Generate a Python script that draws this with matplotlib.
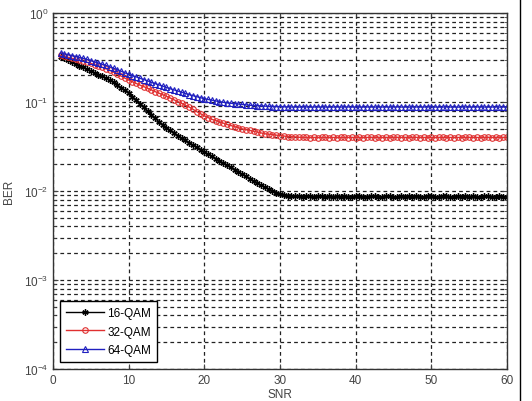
import matplotlib
matplotlib.use("Agg")
import matplotlib.pyplot as plt
from matplotlib.lines import Line2D
import numpy as np

plt.rcParams['font.family'] = ['Liberation Sans', 'DejaVu Sans']

snr = np.arange(1, 60.5, 0.5)

ber_16qam = [0.324, 0.309, 0.295, 0.282, 0.269, 0.257, 0.245, 0.234, 0.224, 0.214,
             0.204, 0.195, 0.186, 0.176, 0.166, 0.155, 0.145, 0.135, 0.126, 0.115,
             0.105, 0.096, 0.087, 0.079, 0.072, 0.066, 0.060, 0.055, 0.051, 0.048,
             0.045, 0.042, 0.039, 0.037, 0.035, 0.033, 0.031, 0.029, 0.0275, 0.026,
             0.0245, 0.0230, 0.0219, 0.0207, 0.0195, 0.0184, 0.0174, 0.0164, 0.0155, 0.0146,
             0.0138, 0.0130, 0.0123, 0.0116, 0.0110, 0.0105, 0.0100, 0.0096, 0.0093,
             0.0090, 0.0089, 0.0088, 0.0087, 0.0088, 0.0086, 0.0087, 0.0088, 0.0085, 0.0087,
             0.0088, 0.0086, 0.0087, 0.0085, 0.0088, 0.0086, 0.0087, 0.0085, 0.0086, 0.0088,
             0.0087, 0.0085, 0.0086, 0.0088, 0.0087, 0.0085, 0.0086, 0.0087, 0.0088, 0.0085,
             0.0086, 0.0087, 0.0085, 0.0088, 0.0086, 0.0087, 0.0085, 0.0086, 0.0088, 0.0087,
             0.0085, 0.0086, 0.0087, 0.0088, 0.0085, 0.0086, 0.0087, 0.0085, 0.0088, 0.0086,
             0.0087, 0.0085, 0.0086, 0.0088, 0.0087, 0.0085, 0.0086, 0.0087, 0.0086, 0.0086]

ber_32qam = [0.335, 0.326, 0.318, 0.310, 0.302, 0.294, 0.287, 0.280, 0.272, 0.263,
             0.255, 0.246, 0.237, 0.227, 0.217, 0.206, 0.196, 0.186, 0.177, 0.169,
             0.162, 0.155, 0.149, 0.143, 0.137, 0.131, 0.126, 0.121, 0.116, 0.111,
             0.106, 0.101, 0.097, 0.092, 0.088, 0.083, 0.078, 0.074, 0.070, 0.067,
             0.064, 0.062, 0.060, 0.058, 0.056, 0.0545, 0.053, 0.0515, 0.050, 0.049,
             0.048, 0.047, 0.046, 0.045, 0.044, 0.0435, 0.043, 0.0425, 0.042,
             0.0415, 0.041, 0.0407, 0.0405, 0.0402, 0.0400, 0.0401, 0.0399, 0.0400, 0.0398,
             0.0400, 0.0401, 0.0399, 0.0400, 0.0398, 0.0400, 0.0401, 0.0399, 0.0400, 0.0399,
             0.0400, 0.0398, 0.0400, 0.0401, 0.0399, 0.0400, 0.0398, 0.0400, 0.0399, 0.0400,
             0.0401, 0.0399, 0.0400, 0.0398, 0.0400, 0.0401, 0.0399, 0.0400, 0.0399, 0.0400,
             0.0398, 0.0400, 0.0401, 0.0399, 0.0400, 0.0398, 0.0400, 0.0399, 0.0400, 0.0401,
             0.0399, 0.0400, 0.0398, 0.0400, 0.0401, 0.0399, 0.0400, 0.0399, 0.0400, 0.0400]

ber_64qam = [0.355, 0.347, 0.340, 0.332, 0.325, 0.317, 0.310, 0.301, 0.292, 0.283,
             0.275, 0.266, 0.258, 0.249, 0.240, 0.231, 0.222, 0.213, 0.205, 0.198,
             0.192, 0.185, 0.179, 0.173, 0.167, 0.161, 0.156, 0.151, 0.146, 0.141,
             0.137, 0.133, 0.129, 0.125, 0.121, 0.118, 0.115, 0.112, 0.109, 0.107,
             0.105, 0.103, 0.101, 0.0995, 0.098, 0.097, 0.096, 0.095, 0.094, 0.093,
             0.092, 0.0915, 0.091, 0.0905, 0.090, 0.0895, 0.089, 0.089, 0.089,
             0.0885, 0.0882, 0.0880, 0.0881, 0.0879, 0.0880, 0.0882, 0.0878, 0.0880, 0.0881,
             0.0879, 0.0880, 0.0878, 0.0880, 0.0881, 0.0879, 0.0880, 0.0882, 0.0879, 0.0880,
             0.0878, 0.0880, 0.0881, 0.0879, 0.0880, 0.0878, 0.0880, 0.0881, 0.0879, 0.0880,
             0.0882, 0.0879, 0.0880, 0.0878, 0.0880, 0.0881, 0.0879, 0.0880, 0.0882, 0.0879,
             0.0880, 0.0878, 0.0880, 0.0881, 0.0879, 0.0880, 0.0878, 0.0880, 0.0881, 0.0879,
             0.0880, 0.0882, 0.0879, 0.0880, 0.0878, 0.0880, 0.0881, 0.0879, 0.0880, 0.0880]

labels = ['16-QAM', '32-QAM', '64-QAM']
xticks = [0, 10, 20, 30, 40, 50, 60]

fig = plt.figure(figsize=(5.32, 4.02), dpi=100)
ax = fig.add_axes([0.0996, 0.0796, 0.8534, 0.8854])

ax.semilogy(snr, ber_16qam, color='black', marker=(6, 2, 0), markersize=4.5,
            markeredgewidth=1.0, linewidth=1.0, label=labels[0])
ax.semilogy(snr, ber_32qam, color='#e03030', marker='o', markersize=4,
            markerfacecolor='none', markeredgewidth=0.8, linewidth=1.0, label=labels[1])
ax.semilogy(snr, ber_64qam, color='#2020c0', marker='^', markersize=4.5,
            markerfacecolor='none', markeredgewidth=0.8, linewidth=1.0, label=labels[2])

ax.set_xlim(0, 60)
ax.set_ylim(1e-4, 1)
ax.set_xticks(xticks)
ax.set_xticklabels([str(t) for t in xticks])
ax.grid(True, which='major', axis='both', color='#222222', linestyle=(0, (3, 2.5)), linewidth=0.9)
ax.grid(True, which='minor', axis='y', color='#222222', linestyle=(0, (3, 2.5)), linewidth=0.9)
ax.tick_params(which='both', direction='in', labelsize=8.5, colors='#444444')
ax.tick_params(which='both', top=True, right=True)
for s in ax.spines.values():
    s.set_color('#333333')
    s.set_linewidth(1.0)

ax.set_xlabel('SNR', fontsize=8.5, color='#444444', labelpad=1.5)
ax.set_ylabel('BER', fontsize=8.5, color='#444444', labelpad=6)

leg = ax.legend(loc='lower left', fontsize=8.5, frameon=True, fancybox=False,
                edgecolor='black', framealpha=1, borderpad=0.5, labelspacing=0.55,
                handlelength=3.2, handletextpad=0.3, borderaxespad=0.6)
leg.get_frame().set_linewidth(1.0)

fig.add_artist(Line2D([520 / 532, 520 / 532], [0, 1], color='black', linewidth=1.0,
                      transform=fig.transFigure))

fig.savefig('out.png', dpi=100)
